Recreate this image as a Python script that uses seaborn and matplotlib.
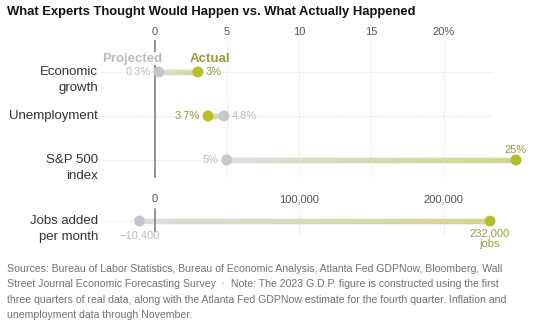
import numpy as np
import pandas as pd
import matplotlib
matplotlib.use("Agg")
import matplotlib.pyplot as plt
from matplotlib.collections import LineCollection
from matplotlib.colors import to_rgb
import seaborn as sns

# ---- data ----
pct_rows = ["Economic\ngrowth", "Unemployment", "S&P 500\nindex"]
pct_projected = [0.3, 4.8, 5.0]
pct_actual = [3.0, 3.7, 25.0]
pct_ticks = [0, 5, 10, 15, 20]
pct_tick_labels = ["0", "5", "10", "15", "20%"]

jobs_row = ["Jobs added\nper month"]
jobs_projected = [-10400]
jobs_actual = [232000]
jobs_ticks = [0, 100000, 200000]
jobs_tick_labels = ["0", "100,000", "200,000"]

title = "What Experts Thought Would Happen vs. What Actually Happened"
footer = ("Sources: Bureau of Labor Statistics, Bureau of Economic Analysis, Atlanta Fed GDPNow, Bloomberg, Wall\n"
          "Street Journal Economic Forecasting Survey  \u00b7  Note: The 2023 G.D.P. figure is constructed using the first\n"
          "three quarters of real data, along with the Atlanta Fed GDPNow estimate for the fourth quarter. Inflation and\n"
          "unemployment data through November.")

# ---- style ----
sns.set_style("white")
plt.rcParams["font.family"] = ["Liberation Sans", "DejaVu Sans"]

GRAY_PT = "#c4c6d0"
OLIVE_PT = "#b5bd2a"
GRAY_TXT = "#b9bbc3"
OLIVE_TXT = "#979b3a"
BAR_GRAY = "#dcdcdc"
BAR_OLIVE = "#d3d68c"
GRID = "#efefef"
ROWLINE = "#e4e4e4"
ZERO = "#8a8a8a"
LABEL = "#333333"

W, H = 540, 328
fig = plt.figure(figsize=(W / 100, H / 100), dpi=100)

def px_axes(x0, y0, x1, y1):
    return fig.add_axes([x0 / W, 1 - y1 / H, (x1 - x0) / W, (y1 - y0) / H])

AX_L, AX_R = 100, 530
PX_PER_UNIT = 14.46
ZERO_PX = 154.5
xlo = (AX_L - ZERO_PX) / PX_PER_UNIT
xhi = (AX_R - ZERO_PX) / PX_PER_UNIT
JOB_SCALE = 10000.0
LINE_PT = 16 * 0.72  # one text line, in points


def gradient_bar(ax, y, x0, x1, c0, c1, lw=3.8, n=80):
    # overlapping short segments so the colour ramp has no seams
    xs = np.linspace(x0, x1, n + 1)
    segs = [[(xs[i], y), (xs[min(i + 2, n)], y)] for i in range(n)]
    a, b = np.array(to_rgb(c0)), np.array(to_rgb(c1))
    cols = [a + (b - a) * t for t in np.linspace(0, 1, n)]
    ax.add_collection(LineCollection(segs, colors=cols, linewidths=lw,
                                     capstyle="butt", zorder=2))


def style_axis(ax, ticks, labels, xl, xr):
    ax.set_xlim(xl, xr)
    ax.xaxis.tick_top()
    ax.set_xticks(ticks)
    ax.set_xticklabels(labels, fontsize=8, color="#555555")
    ax.tick_params(axis="x", length=0, pad=2)
    ax.set_yticks([])
    for s in ax.spines.values():
        s.set_visible(False)
    for t in ticks[1:]:
        ax.axvline(t, color=GRID, lw=0.8, zorder=0)


def row_label(ax, x, y, name):
    # first line sits on the row, further lines stack beneath it
    for k, part in enumerate(name.split("\n")):
        ax.annotate(part, xy=(x, y), xytext=(0, -k * LINE_PT),
                    textcoords="offset points", ha="right", va="center",
                    fontsize=9.5, color=LABEL, annotation_clip=False)


# ---- percentage panel ----
ax = px_axes(AX_L, 40, AX_R, 178)
ylo, yhi = -0.727, 2.41
style_axis(ax, pct_ticks, pct_tick_labels, xlo, xhi)
ax.axvline(0, color=ZERO, lw=1.3, zorder=1)
row_end = (493 - ZERO_PX) / PX_PER_UNIT
for i, name in enumerate(pct_rows):
    ax.plot([xlo, row_end], [i, i], color=ROWLINE, lw=0.8, ls=(0, (1, 1)), zorder=0)
    gradient_bar(ax, i, pct_projected[i], pct_actual[i], BAR_GRAY, BAR_OLIVE)
    row_label(ax, -3.9, i, name)

df = pd.DataFrame({
    "row": list(range(len(pct_rows))) * 2,
    "value": pct_projected + pct_actual,
    "kind": ["Projected"] * len(pct_rows) + ["Actual"] * len(pct_rows),
})
sns.scatterplot(data=df, x="value", y="row", hue="kind",
                palette={"Projected": GRAY_PT, "Actual": OLIVE_PT},
                s=62, edgecolor="none", legend=False, zorder=4, ax=ax)
ax.set_ylim(yhi, ylo)
ax.set_xlim(xlo, xhi)
ax.set_xlabel("")
ax.set_ylabel("")

fs = 8
# Economic growth labels
ax.text(pct_projected[0] - 0.55, 0, f"{pct_projected[0]}%", ha="right", va="center",
        fontsize=fs, color=GRAY_TXT, zorder=5,
        bbox=dict(fc="white", ec="none", pad=0.3))
ax.text(pct_actual[0] + 0.55, 0, f"{pct_actual[0]:g}%", ha="left", va="center",
        fontsize=fs, color=OLIVE_TXT, zorder=5)
ax.text(pct_projected[0] + 0.25, -0.3, "Projected", ha="right", va="center",
        fontsize=9.5, color=GRAY_TXT, fontweight="bold", zorder=5,
        bbox=dict(fc="white", ec="none", pad=0.5))
ax.text(pct_actual[0] - 0.6, -0.3, "Actual", ha="left", va="center",
        fontsize=9.5, color=OLIVE_TXT, fontweight="bold", zorder=5)
# Unemployment labels
ax.text(pct_actual[1] - 0.55, 1, f"{pct_actual[1]}%", ha="right", va="center",
        fontsize=fs, color=OLIVE_TXT, zorder=5)
ax.text(pct_projected[1] + 0.55, 1, f"{pct_projected[1]}%", ha="left", va="center",
        fontsize=fs, color=GRAY_TXT, zorder=5)
# S&P labels
ax.text(pct_projected[2] - 0.55, 2, f"{pct_projected[2]:g}%", ha="right", va="center",
        fontsize=fs, color=GRAY_TXT, zorder=5)
ax.text(pct_actual[2], 1.77, f"{pct_actual[2]:g}%", ha="center", va="center",
        fontsize=fs, color=OLIVE_TXT, zorder=5)

# ---- jobs panel ----
bx = px_axes(AX_L, 207, AX_R, 236)
bylo, byhi = -0.47, 0.5
style_axis(bx, jobs_ticks, jobs_tick_labels, xlo * JOB_SCALE, xhi * JOB_SCALE)
bx.plot([0, 0], [-0.4, 0.32], color=ZERO, lw=1.3, zorder=5)
bx.plot([xlo * JOB_SCALE, row_end * JOB_SCALE], [0, 0], color=ROWLINE, lw=0.8,
        ls=(0, (1, 1)), zorder=0)
gradient_bar(bx, 0, jobs_projected[0], jobs_actual[0], BAR_GRAY, BAR_OLIVE)
row_label(bx, -3.9 * JOB_SCALE, 0, jobs_row[0])
jdf = pd.DataFrame({"value": jobs_projected + jobs_actual, "row": [0, 0],
                    "kind": ["Projected", "Actual"]})
sns.scatterplot(data=jdf, x="value", y="row", hue="kind",
                palette={"Projected": GRAY_PT, "Actual": OLIVE_PT},
                s=62, edgecolor="none", legend=False, zorder=4, ax=bx)
bx.set_ylim(byhi, bylo)
bx.set_xlim(xlo * JOB_SCALE, xhi * JOB_SCALE)
bx.set_xlabel("")
bx.set_ylabel("")
bx.annotate(f"\u2212{abs(jobs_projected[0]):,}", xy=(jobs_projected[0], 0),
            xytext=(0, -10.5), textcoords="offset points", ha="center", va="center",
            fontsize=fs, color=GRAY_TXT, annotation_clip=False)
bx.annotate(f"{jobs_actual[0]:,}\njobs", xy=(jobs_actual[0], 0),
            xytext=(0, -5.5), textcoords="offset points", ha="center", va="top",
            fontsize=fs, color=OLIVE_TXT, linespacing=1.05, annotation_clip=False)

# ---- title and footer ----
fig.text(7 / W, 1 - 12 / H, title, ha="left", va="center", fontsize=9.4,
         fontweight="bold", color="#121212")
fig.text(7 / W, 1 - 264 / H, footer, ha="left", va="top", fontsize=7.6,
         color="#727272", linespacing=1.68)

fig.savefig("out.png", dpi=100, facecolor="white")
